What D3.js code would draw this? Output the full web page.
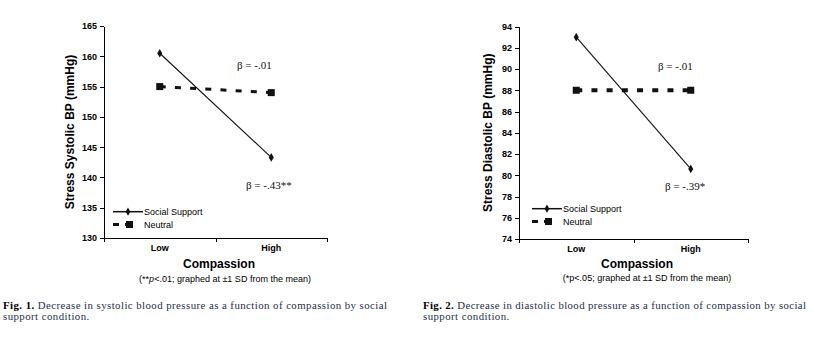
<!DOCTYPE html>
<html>
<head>
<meta charset="utf-8">
<script src="https://cdn.jsdelivr.net/npm/d3@7"></script>
<style>
  body { margin: 0; background: #fff; }
  svg { display: block; }
  .axis path, .axis line { stroke: #000; stroke-width: 1; shape-rendering: crispEdges; }
  .axis text { font-family: "Liberation Sans", Arial, sans-serif; font-weight: bold; font-size: 9px; fill: #000; }
  .sans { font-family: "Liberation Sans", Arial, sans-serif; fill: #000; }
  .serif { font-family: "Liberation Serif", "Times New Roman", serif; fill: #111; }
  .caption { font-family: "Liberation Serif", "DejaVu Serif", serif; font-size: 10.8px; fill: #24304a; }
</style>
</head>
<body>
<svg id="chart" width="814" height="348"></svg>
<script>
// Compassion level (graphed at +-1 SD)
var categories = ["Low", "High"];
var seriesNames = ["Social Support", "Neutral"];

// Fig. 1 - stress systolic BP (mmHg)
var systolicSocial = [160.5, 143.3];
var systolicNeutral = [155.0, 154.0];
var systolicTicks = [130, 135, 140, 145, 150, 155, 160, 165];

// Fig. 2 - stress diastolic BP (mmHg)
var diastolicSocial = [93.0, 80.6];
var diastolicNeutral = [88.0, 88.0];
var diastolicTicks = [74, 76, 78, 80, 82, 84, 86, 88, 90, 92, 94];

var panels = [
    {
        left: 104, right: 327, top: 26, bottom: 238,
        ticks: systolicTicks, social: systolicSocial, neutral: systolicNeutral,
        yLabel: "Stress Systolic BP (mmHg)", yLabelX: 74,
        neutralWidth: 3,
        betas: [{ text: "\u03b2 = -.01", x: 237, y: 69 }, { text: "\u03b2 = -.43**", x: 246, y: 189 }],
        legend: { x: 113, y: 211.7 },
        titleX: 219, titleY: 268, tickY: 251,
        note: [["(**", false], ["p", true], ["<.01; graphed at \u00b11 SD from the mean)", false]],
        noteX: 225, noteY: 282,
        capX: 3, capY: 308.5, capWidth: 384,
        capFig: "Fig. 1.",
        capText: [" Decrease in systolic blood pressure as a function of compassion by social", "support condition."]
    },
    {
        left: 519, right: 748, top: 26.5, bottom: 239,
        ticks: diastolicTicks, social: diastolicSocial, neutral: diastolicNeutral,
        yLabel: "Stress Diastolic BP (mmHg)", yLabelX: 492,
        neutralWidth: 4,
        betas: [{ text: "\u03b2 = -.01", x: 658, y: 70 }, { text: "\u03b2 = -.39*", x: 665, y: 190 }],
        legend: { x: 532, y: 208.7 },
        titleX: 637, titleY: 267.5, tickY: 252,
        note: [["(*p<.05; graphed at \u00b11 SD from the mean)", false]],
        noteX: 647, noteY: 281,
        capX: 423, capY: 308.5, capWidth: 383,
        capFig: "Fig. 2.",
        capText: [" Decrease in diastolic blood pressure as a function of compassion by social", "support condition."]
    }
];

var svg = d3.select("#chart");

panels.forEach(function(p) {
    var g = svg.append("g");

    // Scales
    var x = d3.scaleBand().domain(categories).range([p.left, p.right]);
    var xEdge = d3.scaleLinear().domain([0, categories.length]).range([p.left, p.right]);
    var y = d3.scaleLinear()
        .domain(d3.extent(p.ticks))
        .range([p.bottom, p.top]);
    var cx = function(i) { return x(categories[i]) + x.bandwidth() / 2; };

    // Y axis
    g.append("g")
        .attr("class", "axis")
        .attr("transform", "translate(" + p.left + ",0)")
        .call(d3.axisLeft(y).tickValues(p.ticks).tickSize(4).tickSizeOuter(0).tickPadding(3));

    // X axis: tick marks at band edges, labels at band centres
    g.append("g")
        .attr("class", "axis")
        .attr("transform", "translate(0," + p.bottom + ")")
        .call(d3.axisBottom(xEdge).tickValues(d3.range(categories.length + 1)).tickSize(4).tickSizeOuter(0).tickFormat(""));

    g.selectAll(".xlab")
        .data(categories)
        .enter().append("text")
        .attr("class", "sans")
        .attr("x", function(d) { return x(d) + x.bandwidth() / 2; })
        .attr("y", p.tickY)
        .attr("text-anchor", "middle")
        .style("font-size", "9px")
        .style("font-weight", "bold")
        .text(function(d) { return d; });

    // Axis titles
    g.append("text")
        .attr("class", "sans")
        .attr("transform", "translate(" + p.yLabelX + "," + ((p.top + p.bottom) / 2) + ") rotate(-90)")
        .attr("text-anchor", "middle")
        .style("font-size", "12px")
        .style("font-weight", "bold")
        .text(p.yLabel);

    g.append("text")
        .attr("class", "sans")
        .attr("x", p.titleX)
        .attr("y", p.titleY)
        .attr("text-anchor", "middle")
        .style("font-size", "12px")
        .style("font-weight", "bold")
        .text("Compassion");

    var note = g.append("text")
        .attr("class", "sans")
        .attr("x", p.noteX)
        .attr("y", p.noteY)
        .attr("text-anchor", "middle")
        .style("font-size", "9px");
    p.note.forEach(function(part) {
        note.append("tspan").style("font-style", part[1] ? "italic" : "normal").text(part[0]);
    });

    // Neutral series (dashed, squares)
    var line = d3.line()
        .x(function(d, i) { return cx(i); })
        .y(function(d) { return y(d); });

    g.append("path")
        .attr("d", line(p.neutral))
        .attr("fill", "none")
        .attr("stroke", "#111")
        .attr("stroke-width", p.neutralWidth)
        .attr("stroke-dasharray", "6,9.2");

    g.selectAll(".sq")
        .data(p.neutral)
        .enter().append("rect")
        .attr("x", function(d, i) { return cx(i) - 3.5; })
        .attr("y", function(d) { return y(d) - 3.5; })
        .attr("width", 7)
        .attr("height", 7)
        .attr("fill", "#111");

    // Social support series (solid, diamonds)
    g.append("path")
        .attr("d", line(p.social))
        .attr("fill", "none")
        .attr("stroke", "#111")
        .attr("stroke-width", 1.1);

    g.selectAll(".dm")
        .data(p.social)
        .enter().append("path")
        .attr("d", d3.symbol(d3.symbolDiamond, 22))
        .attr("transform", function(d, i) { return "translate(" + cx(i) + "," + y(d) + ")"; })
        .attr("fill", "#111");

    // Beta annotations
    g.selectAll(".beta")
        .data(p.betas)
        .enter().append("text")
        .attr("class", "serif")
        .attr("x", function(d) { return d.x; })
        .attr("y", function(d) { return d.y; })
        .style("font-size", "11px")
        .text(function(d) { return d.text; });

    // Legend
    var lg = g.append("g").attr("transform", "translate(" + p.legend.x + "," + p.legend.y + ")");
    lg.append("line").attr("x1", 0).attr("x2", 30).attr("y1", 0).attr("y2", 0)
        .attr("stroke", "#111").attr("stroke-width", 1.5);
    lg.append("path").attr("d", d3.symbol(d3.symbolDiamond, 20)).attr("transform", "translate(15,0)").attr("fill", "#111");
    lg.append("line").attr("x1", 0).attr("x2", 23).attr("y1", 12.8).attr("y2", 12.8)
        .attr("stroke", "#111").attr("stroke-width", 3).attr("stroke-dasharray", "6,6");
    lg.append("rect").attr("x", 13).attr("y", 9.3).attr("width", 7).attr("height", 7).attr("fill", "#111");
    lg.selectAll(".lt")
        .data(seriesNames)
        .enter().append("text")
        .attr("class", "sans")
        .attr("x", 31)
        .attr("y", function(d, i) { return 3.4 + i * 13.3; })
        .style("font-size", "9px")
        .text(function(d) { return d; });

    // Caption
    var cap = g.append("text").attr("class", "caption").attr("x", p.capX).attr("y", p.capY)
        .attr("textLength", p.capWidth).attr("lengthAdjust", "spacing");
    cap.append("tspan").style("font-weight", "bold").style("fill", "#000").text(p.capFig);
    cap.append("tspan").text(p.capText[0]);
    g.append("text").attr("class", "caption").attr("x", p.capX).attr("y", p.capY + 11)
        .style("letter-spacing", "0.45px").text(p.capText[1]);
});
</script>
</body>
</html>
